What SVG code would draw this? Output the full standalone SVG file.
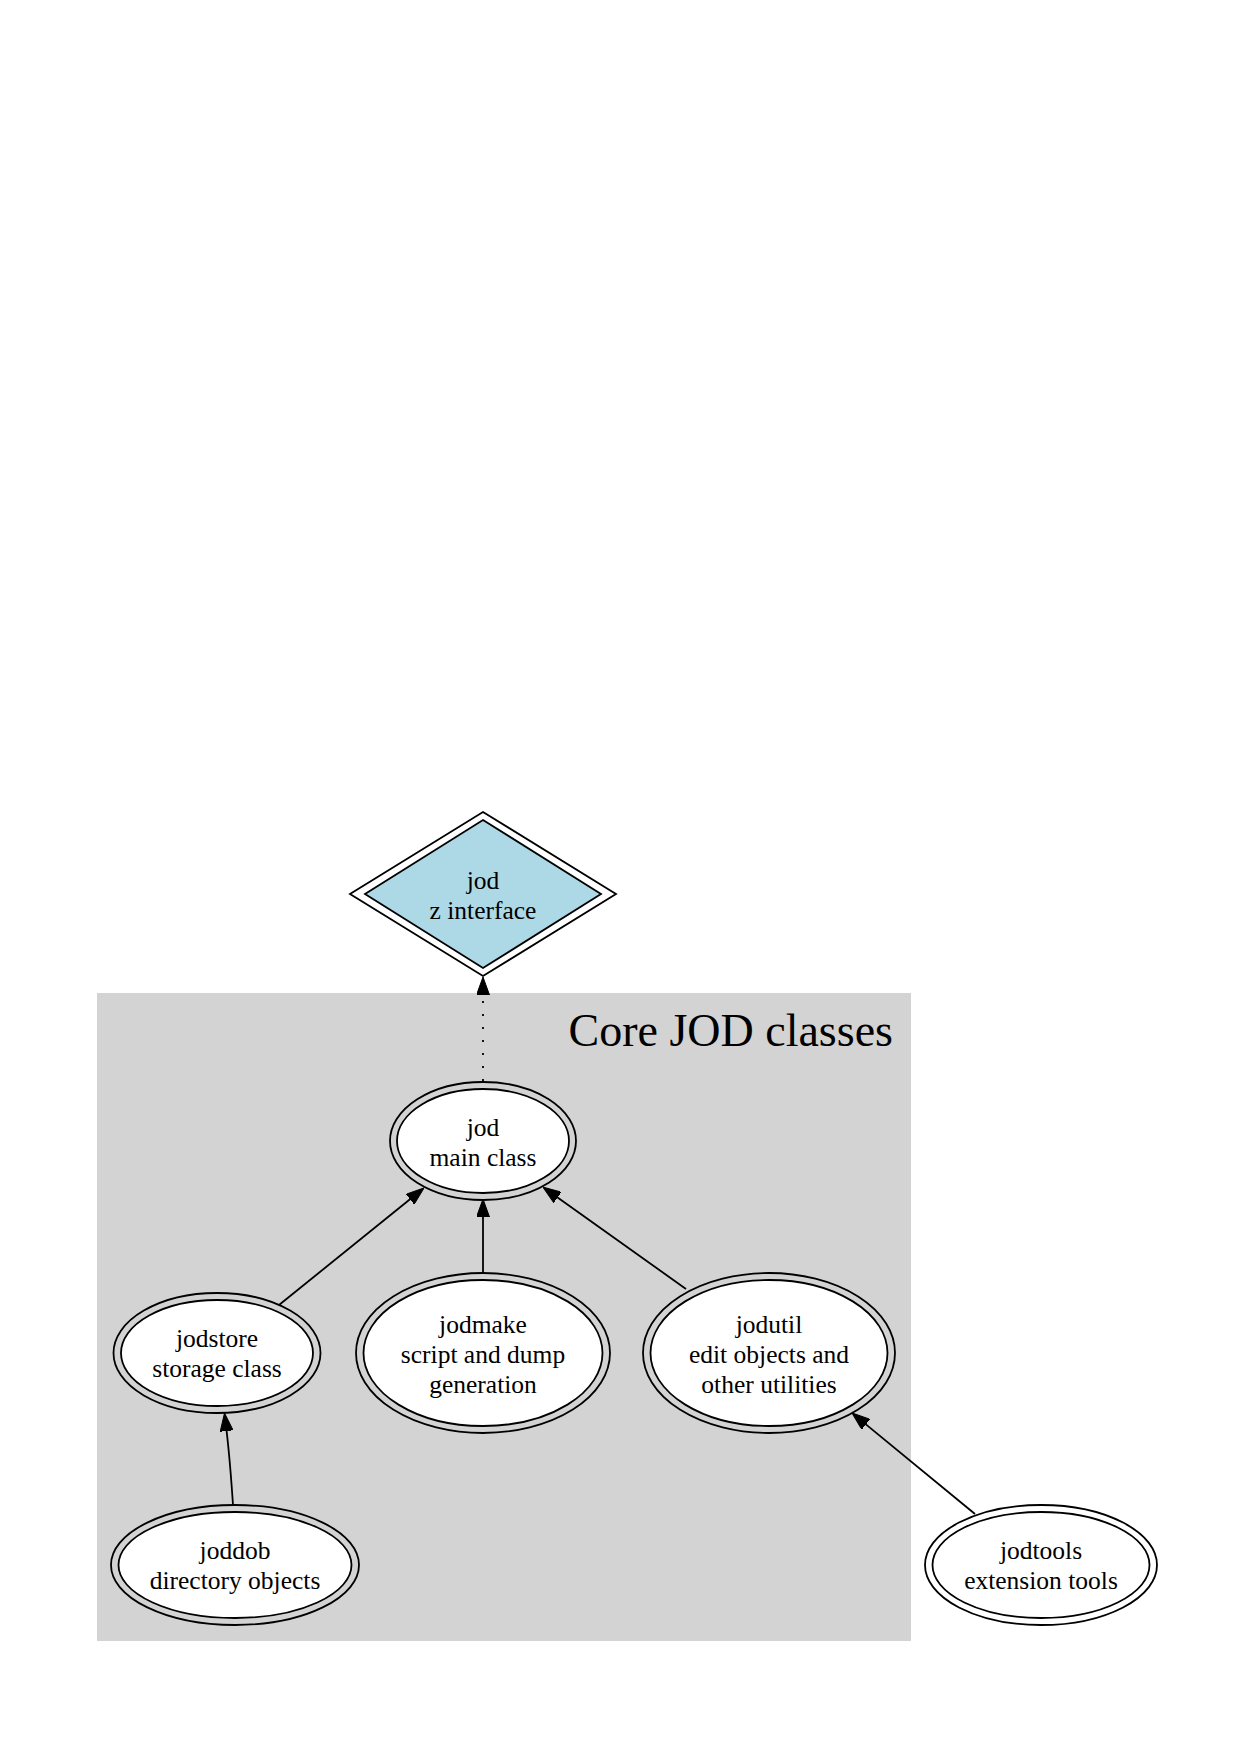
<svg xmlns="http://www.w3.org/2000/svg" width="1240" height="1754" viewBox="0 0 1240 1754">
<defs>
<marker id="arr" viewBox="0 0 18 13" markerWidth="18" markerHeight="13" refX="0" refY="6.5" orient="auto" markerUnits="userSpaceOnUse">
<path d="M0,0 L18,6.5 L0,13 z" fill="#000" stroke="#000" stroke-width="1"/>
</marker>
</defs>
<style>
.ring{fill:none;stroke:#000;stroke-width:1.8}
.core{fill:#fff;stroke:#000;stroke-width:1.8}
.lbl{font-family:"Liberation Serif","Times New Roman",serif;font-size:25.5px;fill:#000;text-anchor:middle}
.edge{fill:none;stroke:#000;stroke-width:1.8}
</style>
<rect width="1240" height="1754" fill="#fff"/>
<g id="cluster_core">
<rect x="97" y="993" width="814" height="648" fill="#d3d3d3"/>
<text x="893" y="1046" font-family="'Liberation Serif','Times New Roman',serif" font-size="46" text-anchor="end" fill="#000">Core JOD classes</text>
</g>
<g id="edges">
<path class="edge" d="M483,1081 L483,995" stroke-dasharray="2,11" marker-end="url(#arr)"/>
<path class="edge" d="M279,1305 L410,1199.3" marker-end="url(#arr)"/>
<path class="edge" d="M483,1272 L483,1217" marker-end="url(#arr)"/>
<path class="edge" d="M686,1289 L557.6,1197.5" marker-end="url(#arr)"/>
<path class="edge" d="M233,1505 Q230,1460 226.6,1431" marker-end="url(#arr)"/>
<path class="edge" d="M975,1514 L865.9,1424.4" marker-end="url(#arr)"/>
</g>
<g id="jod_z">
<polygon class="ring" points="483,812 616,894 483,976 350,894"/>
<polygon points="483,820 601,894 483,968 365,894" fill="#add8e6" stroke="#000" stroke-width="1.8"/>
<text class="lbl" x="483" y="889">jod</text>
<text class="lbl" x="483" y="919">z interface</text>
</g>
<g id="jod">
<ellipse class="ring" cx="483" cy="1141" rx="93" ry="59"/>
<ellipse class="core" cx="483" cy="1141" rx="86" ry="52"/>
<text class="lbl" x="483" y="1136">jod</text>
<text class="lbl" x="483" y="1166">main class</text>
</g>
<g id="jodstore">
<ellipse class="ring" cx="217" cy="1353" rx="103.5" ry="60"/>
<ellipse class="core" cx="217" cy="1353" rx="96" ry="53"/>
<text class="lbl" x="217" y="1347">jodstore</text>
<text class="lbl" x="217" y="1377">storage class</text>
</g>
<g id="jodmake">
<ellipse class="ring" cx="483" cy="1353" rx="127" ry="80"/>
<ellipse class="core" cx="483" cy="1353" rx="119.5" ry="73"/>
<text class="lbl" x="483" y="1333">jodmake</text>
<text class="lbl" x="483" y="1363">script and dump</text>
<text class="lbl" x="483" y="1393">generation</text>
</g>
<g id="jodutil">
<ellipse class="ring" cx="769" cy="1353" rx="126" ry="80"/>
<ellipse class="core" cx="769" cy="1353" rx="118.5" ry="73"/>
<text class="lbl" x="769" y="1333">jodutil</text>
<text class="lbl" x="769" y="1363">edit objects and</text>
<text class="lbl" x="769" y="1393">other utilities</text>
</g>
<g id="joddob">
<ellipse class="ring" cx="235" cy="1565" rx="124" ry="60"/>
<ellipse class="core" cx="235" cy="1565" rx="116.5" ry="53"/>
<text class="lbl" x="235" y="1559">joddob</text>
<text class="lbl" x="235" y="1589">directory objects</text>
</g>
<g id="jodtools">
<ellipse class="ring" cx="1041" cy="1565" rx="116" ry="60"/>
<ellipse class="core" cx="1041" cy="1565" rx="108.5" ry="53"/>
<text class="lbl" x="1041" y="1559">jodtools</text>
<text class="lbl" x="1041" y="1589">extension tools</text>
</g>
</svg>
